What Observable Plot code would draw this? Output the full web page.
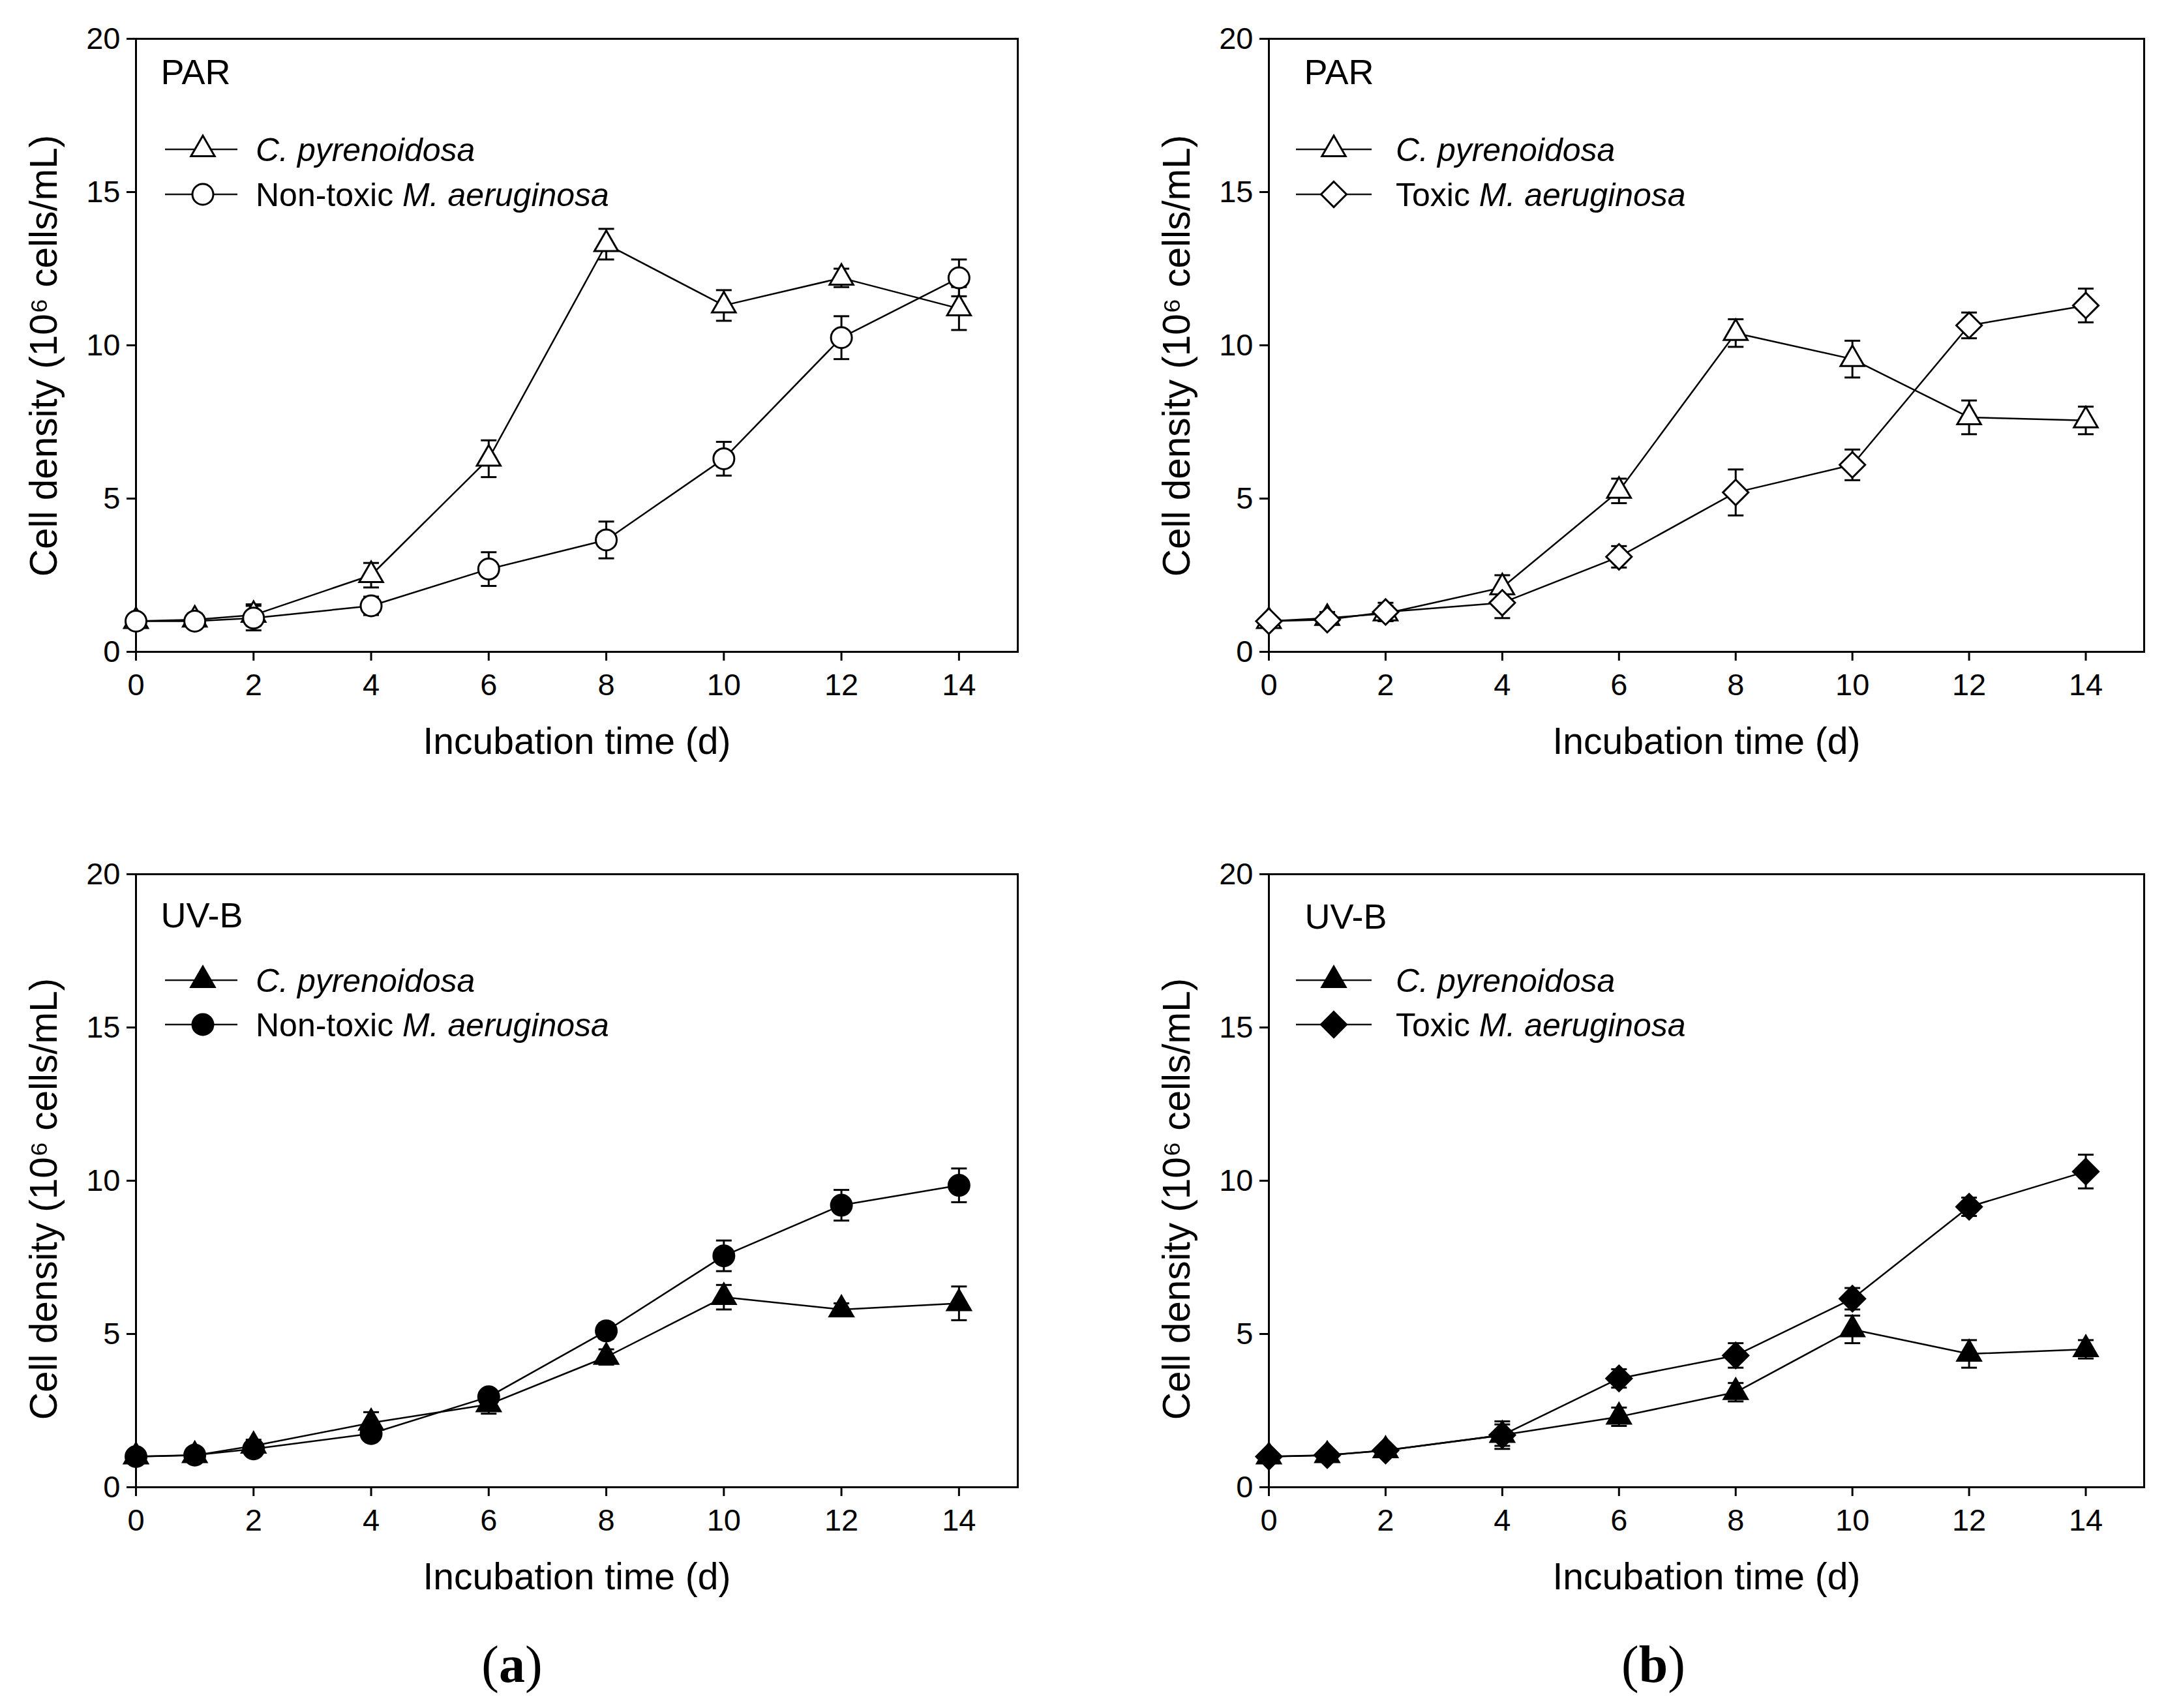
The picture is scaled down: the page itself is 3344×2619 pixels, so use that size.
<!DOCTYPE html>
<html>
<head>
<meta charset="utf-8">
<script src="https://cdn.jsdelivr.net/npm/d3@7"></script>
<script src="https://cdn.jsdelivr.net/npm/@observablehq/plot@0.6"></script>
<style>
  html, body { margin: 0; padding: 0; background: #fff; }
  #page { position: relative; width: 3344px; height: 2619px; background: #fff; overflow: hidden; }
  .panel { position: absolute; }
  .tag { position: absolute; font-family: "Liberation Serif", "Times New Roman", serif; font-size: 80px; line-height: 1; transform: translate(-50%, -50%); color: #000; }
</style>
</head>
<body>
<div id="page">
  <div class="panel" id="p1" style="left:0px; top:0px;"></div>
  <div class="panel" id="p2" style="left:1672px; top:0px;"></div>
  <div class="panel" id="p3" style="left:0px; top:1300px;"></div>
  <div class="panel" id="p4" style="left:1672px; top:1300px;"></div>
  <div class="tag" style="left:785px; top:2552px;">(<b>a</b>)</div>
  <div class="tag" style="left:2535px; top:2552px;">(<b>b</b>)</div>
</div>
<script>
// ---------- data ----------
const days = [0, 1, 2, 4, 6, 8, 10, 12, 14];
const xTicks = [0, 2, 4, 6, 8, 10, 12, 14];
const yTicks = [0, 5, 10, 15, 20];
const xLabel = "Incubation time (d)";
const yLabel = "Cell density (10\u2076 cells/mL)";

// (a) PAR
const parCpA    = [1.0, 1.05, 1.2, 2.5, 6.3, 13.3, 11.3, 12.2, 11.2];
const parCpAErr = [0.1, 0.2, 0.35, 0.4, 0.6, 0.5, 0.5, 0.3, 0.7];
const parNtMa    = [1.0, 1.0, 1.1, 1.5, 2.7, 3.65, 6.3, 10.25, 12.2];
const parNtMaErr = [0.1, 0.1, 0.4, 0.3, 0.55, 0.6, 0.55, 0.7, 0.6];
// (b) PAR
const parCpB    = [1.0, 1.1, 1.25, 2.1, 5.25, 10.4, 9.55, 7.65, 7.55];
const parCpBErr = [0.1, 0.2, 0.25, 0.4, 0.4, 0.45, 0.6, 0.55, 0.45];
const parTMa    = [1.0, 1.05, 1.3, 1.6, 3.1, 5.2, 6.1, 10.65, 11.3];
const parTMaErr = [0.1, 0.15, 0.3, 0.5, 0.35, 0.75, 0.5, 0.42, 0.55];
// (a) UV-B
const uvCpA    = [1.0, 1.04, 1.35, 2.1, 2.7, 4.25, 6.2, 5.8, 6.0];
const uvCpAErr = [0.1, 0.15, 0.2, 0.35, 0.3, 0.25, 0.4, 0.2, 0.55];
const uvNtMa    = [1.0, 1.05, 1.25, 1.75, 2.95, 5.1, 7.55, 9.2, 9.85];
const uvNtMaErr = [0.1, 0.1, 0.15, 0.2, 0.2, 0.25, 0.5, 0.5, 0.55];
// (b) UV-B
const uvCpB    = [1.0, 1.04, 1.2, 1.7, 2.3, 3.1, 5.15, 4.35, 4.5];
const uvCpBErr = [0.1, 0.1, 0.15, 0.35, 0.3, 0.3, 0.45, 0.45, 0.3];
const uvTMa    = [1.0, 1.05, 1.2, 1.7, 3.55, 4.3, 6.15, 9.15, 10.3];
const uvTMaErr = [0.1, 0.1, 0.15, 0.45, 0.3, 0.4, 0.35, 0.3, 0.55];

// legend labels: [normal prefix, italic part]
const lgCp  = ["", "C. pyrenoidosa"];
const lgNt  = ["Non-toxic ", "M. aeruginosa"];
const lgTx  = ["Toxic ", "M. aeruginosa"];

// ---------- styles ----------
const FONT = "'Liberation Sans', Arial, sans-serif";
const SYM = {
  triangle: { sym: d3.symbolTriangle, name: "triangle", r: 13.5 },
  circle:   { sym: d3.symbolCircle,   name: "circle",   r: 16 },
  diamond:  { sym: d3.symbolDiamond2, name: "diamond2", r: 17.6 }
};
const capSymbol = { draw(ctx) { ctx.moveTo(-12, 0); ctx.lineTo(12, 0); } };

function rows(vals, errs) {
  return days.map((d, i) => ({ day: d, v: vals[i], e: errs[i] }));
}

function legendMark(cfg, items) {
  return (index, scales, values, dims) => {
    const g = d3.create("svg:g");
    const fl = dims.marginLeft, ft = dims.marginTop;
    items.forEach((it, i) => {
      const y = ft + cfg.rows[i];
      g.append("line")
        .attr("x1", fl + cfg.line[0]).attr("x2", fl + cfg.line[1])
        .attr("y1", y).attr("y2", y)
        .attr("stroke", "#111").attr("stroke-width", 2.5);
      const s = SYM[it.symbol];
      g.append("path")
        .attr("d", d3.symbol(s.sym, s.r * s.r * Math.PI)())
        .attr("transform", `translate(${fl + cfg.marker},${y})`)
        .attr("fill", it.fill).attr("stroke", "#000").attr("stroke-width", 3);
      const t = g.append("text")
        .attr("x", fl + cfg.text).attr("y", y).attr("dy", "0.36em")
        .attr("text-anchor", "start")
        .attr("font-family", FONT).attr("font-size", 50).attr("fill", "#000");
      if (it.label[0]) t.append("tspan").text(it.label[0]);
      t.append("tspan").attr("font-style", "italic").text(it.label[1]);
    });
    return g.node();
  };
}

function panel(elId, opts) {
  const { width, height, margin, series, tag, cfg } = opts;
  const marks = [
    Plot.frame({ stroke: "#000", strokeWidth: 3 }),
    Plot.axisX({ ticks: xTicks, tickSize: 14, tickPadding: 19, strokeWidth: 3, fontSize: 47, label: null }),
    Plot.axisY({ ticks: yTicks, tickSize: 14, tickPadding: 10, strokeWidth: 3, fontSize: 47, label: null }),
    Plot.text([xLabel], { text: d => d, frameAnchor: "bottom", dy: cfg.xLabDy, textAnchor: "middle", lineAnchor: "middle", fontSize: 57 }),
    Plot.text([yLabel], { text: d => d, frameAnchor: "left", dx: -140, dy: cfg.yLabDy, rotate: -90, textAnchor: "middle", lineAnchor: "middle", fontSize: 58.5 }),
    Plot.text([tag], { text: d => d, frameAnchor: "top-left", dx: cfg.tagDx, dy: cfg.tagDy, textAnchor: "start", lineAnchor: "middle", fontSize: 54 })
  ];
  const data = series.map(s => rows(s.values, s.errs));
  data.forEach(d => marks.push(Plot.line(d, { x: "day", y: "v", stroke: "#000", strokeWidth: 2.5 })));
  data.forEach(d => {
    marks.push(Plot.ruleX(d, { x: "day", y1: r => r.v - r.e, y2: r => r.v + r.e, stroke: "#000", strokeWidth: 3 }));
    marks.push(Plot.dot(d, { x: "day", y: r => r.v + r.e, symbol: capSymbol, r: 5, fill: "none", stroke: "#000", strokeWidth: 3 }));
    marks.push(Plot.dot(d, { x: "day", y: r => r.v - r.e, symbol: capSymbol, r: 5, fill: "none", stroke: "#000", strokeWidth: 3 }));
  });
  series.forEach((s, i) => {
    const sy = SYM[s.symbol];
    marks.push(Plot.dot(data[i], { x: "day", y: "v", symbol: sy.name, r: sy.r, fill: s.fill, stroke: "#000", strokeWidth: 3 }));
  });
  marks.push(legendMark(cfg, series));
  const chart = Plot.plot({
    width, height,
    marginLeft: margin[0], marginRight: margin[1], marginTop: margin[2], marginBottom: margin[3],
    x: { domain: [0, 15] },
    y: { domain: [0, 20] },
    style: { fontFamily: FONT, fontSize: "47px", color: "#000", background: "#fff", overflow: "visible" },
    marks
  });
  document.getElementById(elId).appendChild(chart);
}

// frame positions (page px): left panels x 208..1560, right panels 1945..3287
panel("p1", {
  width: 1672, height: 1300, margin: [208, 112, 59, 301], tag: "PAR",
  cfg: { tagDx: 38, tagDy: 52, rows: [170, 239], line: [45, 156], marker: 103, text: 184, xLabDy: 138, yLabDy: 16 },
  series: [
    { values: parCpA, errs: parCpAErr, symbol: "triangle", fill: "#fff", label: lgCp },
    { values: parNtMa, errs: parNtMaErr, symbol: "circle", fill: "#fff", label: lgNt }
  ]
});
panel("p2", {
  width: 1672, height: 1300, margin: [273, 57, 59, 301], tag: "PAR",
  cfg: { tagDx: 54, tagDy: 52, rows: [170, 239], line: [42, 158], marker: 100, text: 195, xLabDy: 138, yLabDy: 16 },
  series: [
    { values: parCpB, errs: parCpBErr, symbol: "triangle", fill: "#fff", label: lgCp },
    { values: parTMa, errs: parTMaErr, symbol: "diamond", fill: "#fff", label: lgTx }
  ]
});
panel("p3", {
  width: 1672, height: 1319, margin: [208, 112, 40, 339], tag: "UV-B",
  cfg: { tagDx: 38, tagDy: 64, rows: [163, 231], line: [45, 156], marker: 103, text: 184, xLabDy: 138, yLabDy: 28 },
  series: [
    { values: uvCpA, errs: uvCpAErr, symbol: "triangle", fill: "#000", label: lgCp },
    { values: uvNtMa, errs: uvNtMaErr, symbol: "circle", fill: "#000", label: lgNt }
  ]
});
panel("p4", {
  width: 1672, height: 1319, margin: [273, 57, 40, 339], tag: "UV-B",
  cfg: { tagDx: 55, tagDy: 66, rows: [163, 231], line: [42, 158], marker: 100, text: 195, xLabDy: 138, yLabDy: 28 },
  series: [
    { values: uvCpB, errs: uvCpBErr, symbol: "triangle", fill: "#000", label: lgCp },
    { values: uvTMa, errs: uvTMaErr, symbol: "diamond", fill: "#000", label: lgTx }
  ]
});
</script>
</body>
</html>
